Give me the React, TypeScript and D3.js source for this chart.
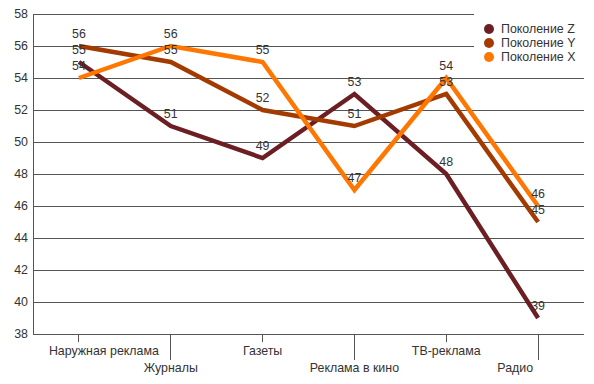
import React from "react";
import * as d3 from "d3";

const categories = ["Наружная реклама", "Журналы", "Газеты", "Реклама в кино", "ТВ-реклама", "Радио"];
const seriesNames = ["Поколение Z", "Поколение Y", "Поколение X"];
const genZ = [55, 51, 49, 53, 48, 39];
const genY = [56, 55, 52, 51, 53, 45];
const genX = [54, 56, 55, 47, 54, 46];
const colors = ["#6b1f23", "#a33b00", "#ff7700"];
const yTicks = [38, 40, 42, 44, 46, 48, 50, 52, 54, 56, 58];

const W = 594, H = 384;
const left = 33, right = 584, top = 14, bottom = 334;

export default function App() {
  const x = d3.scaleBand<string>().domain(categories).range([left, right]);
  const y = d3.scaleLinear().domain([38, 58]).range([bottom, top]);
  const series = [genZ, genY, genX];
  const line = d3
    .line<number>()
    .x((_, i) => (x(categories[i]) as number) + x.bandwidth() / 2)
    .y((d) => y(d));
  const font = "Arial, 'Liberation Sans', sans-serif";
  const fs = 12.4;
  const n = categories.length;
  return (
    <svg width={W} height={H} style={{ position: "absolute", left: 0, top: 0 }} fontFamily={font}>
      <rect width={W} height={H} fill="#fff" />
      {yTicks.map((t) => (
        <g key={t}>
          {t !== 38 && (
            <line x1={left} x2={right} y1={y(t)} y2={y(t)} stroke="#555" strokeWidth={1} shapeRendering="crispEdges" />
          )}
          <text x={left - 5} y={y(t)} dy="0.35em" textAnchor="end" fontSize={fs} fill="#333">
            {t}
          </text>
        </g>
      ))}
      <line x1={left} x2={left} y1={top} y2={bottom} stroke="#555" shapeRendering="crispEdges" />
      <line x1={left} x2={right} y1={bottom} y2={bottom} stroke="#555" shapeRendering="crispEdges" />
      {categories.map((c, i) => {
        const cx = (x(c) as number) + x.bandwidth() / 2;
        const long = i % 2 === 1;
        const anchor = i === 0 ? "start" : i === n - 1 ? "end" : "middle";
        const tx = i === 0 ? cx - 30 : i === n - 1 ? cx - 5 : cx;
        return (
          <g key={c}>
            <line x1={cx} x2={cx} y1={bottom} y2={bottom + (long ? 26 : 8)} stroke="#555" shapeRendering="crispEdges" />
            <text x={tx} y={bottom + (long ? 38 : 21)} textAnchor={anchor} fontSize={fs} fill="#333">
              {c}
            </text>
          </g>
        );
      })}
      {series.map((s, k) => (
        <path key={k} d={line(s) || ""} fill="none" stroke={colors[k]} strokeWidth={4.5} strokeLinejoin="miter" />
      ))}
      {series.map((s, k) =>
        s.map((v, i) => (
          <text
            key={k + "-" + i}
            x={(x(categories[i]) as number) + x.bandwidth() / 2}
            y={y(v) - 8}
            textAnchor="middle"
            fontSize={fs}
            fill="#333"
          >
            {v}
          </text>
        ))
      )}
      <rect x={474} y={0} width={120} height={70} fill="#fff" />
      {seriesNames.map((nm, k) => (
        <g key={nm}>
          <circle cx={489} cy={29 + k * 14} r={5} fill={colors[k]} />
          <text x={501} y={29 + k * 14} dy="0.35em" fontSize={fs} fill="#333">
            {nm}
          </text>
        </g>
      ))}
    </svg>
  );
}
